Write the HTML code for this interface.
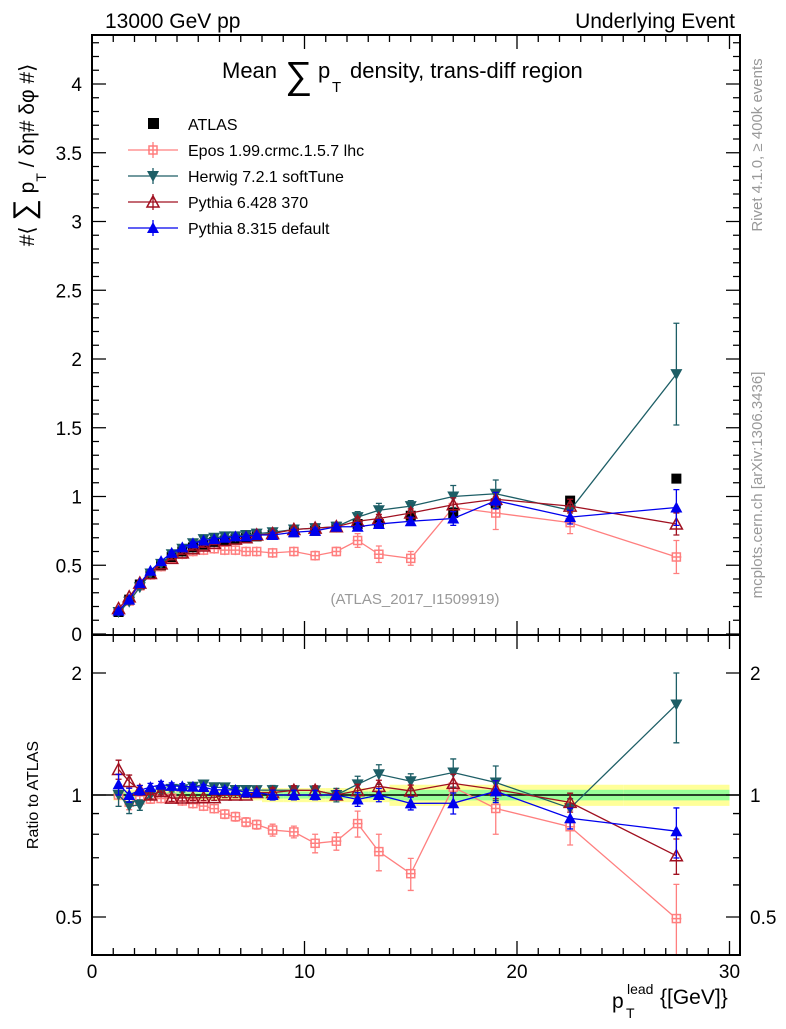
<!DOCTYPE html>
<html><head><meta charset="utf-8"><style>
body{margin:0;background:#fff;}
svg{font-family:"Liberation Sans",sans-serif;}
</style></head><body>
<svg id="s" width="786" height="1024" xmlns="http://www.w3.org/2000/svg">
<rect width="786" height="1024" fill="#fff"/>
<text x="105" y="28" font-size="21">13000 GeV pp</text>
<text x="735" y="28" font-size="21" text-anchor="end">Underlying Event</text>
<text x="222" y="78" font-size="22">Mean</text>
<text x="285" y="88" font-size="38">∑</text>
<text x="318" y="78" font-size="22">p</text>
<text x="332" y="92" font-size="15">T</text>
<text x="350" y="78" font-size="22">density, trans-diff region</text>
<text x="415" y="604" font-size="15" fill="#999" text-anchor="middle">(ATLAS_2017_I1509919)</text>
<g transform="translate(34,155) rotate(-90)"><text x="0" y="0" font-size="21" text-anchor="middle">#⟨ <tspan font-size="30">∑</tspan> p<tspan font-size="14" dy="12">T</tspan><tspan dy="-12"> / δη# δφ #⟩</tspan></text></g>
<g transform="translate(38,795) rotate(-90)"><text x="0" y="0" font-size="16" text-anchor="middle">Ratio to ATLAS</text></g>
<text x="762" y="145" font-size="15" fill="#999" text-anchor="middle" transform="rotate(-90,762,145)">Rivet 4.1.0, ≥ 400k events</text>
<text x="762" y="485" font-size="15" fill="#999" text-anchor="middle" transform="rotate(-90,762,485)">mcplots.cern.ch [arXiv:1306.3436]</text>
<text x="612" y="1008" font-size="21">p</text>
<text x="626" y="1018" font-size="14">T</text>
<text x="627" y="994" font-size="14">lead</text>
<text x="660" y="1004" font-size="21">{[GeV]}</text>
<g id="g"></g>
</svg>
<script>
const g=document.getElementById('g');let h='';
const X=v=>92+21.25*v, Y=v=>634-137.5*v, R=r=>795-405.3*Math.log10(r);
const xs=[1.25,1.75,2.25,2.75,3.25,3.75,4.25,4.75,5.25,5.75,6.25,6.75,7.25,7.75,8.5,9.5,10.5,11.5,12.5,13.5,15,17,19,22.5,27.5];
const A=[0.16,0.25,0.36,0.44,0.5,0.56,0.6,0.63,0.65,0.67,0.68,0.69,0.7,0.71,0.72,0.74,0.75,0.78,0.8,0.8,0.86,0.88,0.95,0.97,1.13];
const S={
ep:{c:'#ff7f7f',v:[0.16,0.24,0.35,0.43,0.49,0.55,0.58,0.6,0.61,0.62,0.61,0.61,0.6,0.6,0.59,0.6,0.57,0.6,0.68,0.58,0.55,0.92,0.88,0.81,0.56],e:[.01,.01,.01,.01,.01,.01,.01,.01,.01,.01,.015,.015,.015,.015,.02,.02,.03,.03,.05,.06,.05,.08,.12,.08,.12]},
hw:{c:'#1d5e66',v:[0.16,0.235,0.34,0.44,0.51,0.58,0.62,0.66,0.69,0.7,0.71,0.71,0.72,0.73,0.74,0.76,0.77,0.78,0.85,0.9,0.93,1.0,1.02,0.9,1.89],e:[.01,.01,.01,.01,.01,.01,.01,.01,.01,.01,.015,.015,.015,.015,.02,.02,.02,.03,.04,.05,.04,.08,.1,.05,.37]},
p6:{c:'#a01020',v:[0.185,0.27,0.37,0.44,0.51,0.55,0.59,0.62,0.64,0.66,0.68,0.69,0.7,0.72,0.73,0.76,0.77,0.78,0.82,0.84,0.88,0.94,0.98,0.93,0.8],e:[.01,.01,.01,.01,.01,.01,.01,.01,.01,.01,.01,.01,.01,.01,.02,.02,.02,.02,.03,.03,.03,.05,.05,.05,.08]},
p8:{c:'#0000ee',v:[0.17,0.25,0.37,0.46,0.53,0.59,0.63,0.66,0.68,0.69,0.7,0.71,0.71,0.72,0.72,0.74,0.75,0.78,0.78,0.8,0.82,0.84,0.97,0.85,0.92],e:[.01,.01,.01,.01,.01,.01,.01,.01,.01,.01,.01,.01,.01,.01,.02,.02,.02,.02,.03,.03,.03,.05,.06,.05,.13]}};
function mk(t,x,y,c){
 if(t=='ep')return `<rect x="${x-4}" y="${y-4}" width="8" height="8" fill="#fff" stroke="${c}" stroke-width="1.5"/><path d="M${x} ${y-5}V${y+5}M${x-5} ${y}H${x+5}" stroke="${c}" stroke-width="1.5"/>`;
 if(t=='hw')return `<path d="M${x-6} ${y-5}H${x+6}L${x} ${y+6}Z" fill="${c}"/>`;
 if(t=='p6')return `<path d="M${x-6} ${y+5}H${x+6}L${x} ${y-6}Z" fill="none" stroke="${c}" stroke-width="1.5"/>`;
 return `<path d="M${x-6} ${y+5}H${x+6}L${x} ${y-6}Z" fill="${c}"/>`;}
h+=`<clipPath id="cr"><rect x="92" y="636" width="648" height="319"/></clipPath><clipPath id="cm"><rect x="92" y="35" width="648" height="600"/></clipPath>`;
xs.forEach((v,i)=>{let w=i<14?0.25:i<20?0.5:i<23?1:2.5;let ey=i<14?0.03:i<20?0.04:0.06;let eg=ey/2;
h+=`<rect x="${X(v-w)}" y="${R(1+ey)}" width="${21.25*2*w}" height="${R(1-ey)-R(1+ey)}" fill="#ffff99"/><rect x="${X(v-w)}" y="${R(1+eg)}" width="${21.25*2*w}" height="${R(1-eg)-R(1+eg)}" fill="#99ff99"/>`;});
h+=`<line x1="92" x2="740" y1="795" y2="795" stroke="#000" stroke-width="1.5"/>`;
let m='',r='';
for(const t of ['ep','hw','p6','p8']){const s=S[t];
 m+=`<polyline fill="none" stroke="${s.c}" stroke-width="1.3" points="${xs.map((v,i)=>X(v)+','+Y(s.v[i])).join(' ')}"/>`;
 r+=`<polyline fill="none" stroke="${s.c}" stroke-width="1.3" points="${xs.map((v,i)=>X(v)+','+R(s.v[i]/A[i])).join(' ')}"/>`;
 xs.forEach((v,i)=>{const x=X(v);
  m+=`<path d="M${x} ${Y(s.v[i]-s.e[i])}V${Y(s.v[i]+s.e[i])}M${x-3} ${Y(s.v[i]-s.e[i])}h6M${x-3} ${Y(s.v[i]+s.e[i])}h6" stroke="${s.c}" stroke-width="1.3"/>`+mk(t,x,Y(s.v[i]),s.c);
  const rr=s.v[i]/A[i],re=s.e[i]/A[i];
  r+=`<path d="M${x} ${R(rr-re)}V${R(rr+re)}M${x-3} ${R(rr-re)}h6M${x-3} ${R(rr+re)}h6" stroke="${s.c}" stroke-width="1.3"/>`+mk(t,x,R(rr),s.c);});
 if(t=='ep') xs.forEach((v,i)=>{m+=`<rect x="${X(v)-5}" y="${Y(A[i])-5}" width="10" height="10" fill="#000"/>`;});
}
h+=`<g clip-path="url(#cm)">${m}</g><g clip-path="url(#cr)">${r}</g>`;
h+=`<rect x="92" y="35" width="648" height="600" fill="none" stroke="#000" stroke-width="2"/><rect x="92" y="635" width="648" height="320" fill="none" stroke="#000" stroke-width="2"/>`;
for(let v=0;v<=30;v++){const x=X(v),L=v%10==0?14:7;
 h+=`<path d="M${x} 635v-${L}M${x} 35v${L}M${x} 955v-${L}M${x} 635v${L}" stroke="#000" stroke-width="1.3"/>`;
 if(v%10==0)h+=`<text x="${x}" y="978" font-size="19" text-anchor="middle">${v}</text>`;}
for(let k=0;k<=43;k++){const v=k/10,y=Y(v),L=k%5==0?14:7;
 h+=`<path d="M92 ${y}h${L}M740 ${y}h-${L}" stroke="#000" stroke-width="1.3"/>`;
 if(k%5==0&&k<=40)h+=`<text x="82" y="${y+7}" font-size="19" text-anchor="end">${k==0?'0':(v%1==0?v:v.toFixed(1))}</text>`;}
[0.4,0.5,0.6,0.7,0.8,0.9,1,2].forEach(v=>{const y=R(v);const L=(v==0.5||v==1||v==2)?14:7;
 if(y<955){h+=`<path d="M92 ${y}h${L}M740 ${y}h-${L}" stroke="#000" stroke-width="1.3"/>`;
 if(L==14){h+=`<text x="82" y="${y+7}" font-size="19" text-anchor="end">${v}</text><text x="750" y="${y+7}" font-size="19">${v}</text>`;}}});
const lg=[['ATLAS',null],['Epos 1.99.crmc.1.5.7 lhc','ep'],['Herwig 7.2.1 softTune','hw'],['Pythia 6.428 370','p6'],['Pythia 8.315 default','p8']];
lg.forEach((l,i)=>{const y=124+26*i;
 if(!l[1])h+=`<rect x="148" y="${y-6}" width="11" height="11" fill="#000"/>`;
 else{const c=S[l[1]].c;h+=`<line x1="128" x2="178" y1="${y}" y2="${y}" stroke="${c}" stroke-width="1.3"/><path d="M153 ${y-8}v16" stroke="${c}" stroke-width="1.3"/>`+mk(l[1],153,y,c);}
 h+=`<text x="188" y="${y+6}" font-size="16">${l[0]}</text>`;});
g.innerHTML=h;
</script>
</body></html>
